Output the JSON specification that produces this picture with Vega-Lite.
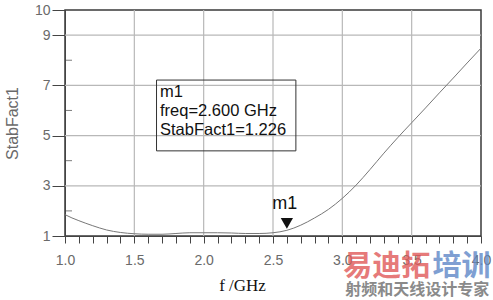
{
  "$schema": "https://vega.github.io/schema/vega-lite/v6.json",
  "autosize": {"type": "none"},
  "padding": {"left": 65, "top": 10, "right": 12, "bottom": 64},
  "width": 416,
  "height": 226,
  "background": "white",
  "view": {"stroke": "#3a3a3a", "strokeWidth": 1.5},
  "config": {
    "axis": {"labelFont": "Liberation Sans", "labelColor": "#6a6a6a", "labelFontSize": 14, "domainColor": "#444", "tickColor": "#444", "titleFont": "Liberation Sans", "grid": false}
  },
  "datasets": {
    "curve": [
      {"f": 1.0, "v": 1.85}, {"f": 1.05, "v": 1.72}, {"f": 1.1, "v": 1.61}, {"f": 1.2, "v": 1.41},
      {"f": 1.3, "v": 1.24}, {"f": 1.4, "v": 1.14}, {"f": 1.5, "v": 1.09}, {"f": 1.6, "v": 1.07},
      {"f": 1.7, "v": 1.07}, {"f": 1.8, "v": 1.10}, {"f": 1.9, "v": 1.13}, {"f": 2.0, "v": 1.13},
      {"f": 2.1, "v": 1.13}, {"f": 2.2, "v": 1.12}, {"f": 2.3, "v": 1.10}, {"f": 2.4, "v": 1.10},
      {"f": 2.5, "v": 1.13}, {"f": 2.6, "v": 1.226}, {"f": 2.7, "v": 1.43}, {"f": 2.8, "v": 1.72},
      {"f": 2.9, "v": 2.06}, {"f": 3.0, "v": 2.50}, {"f": 3.1, "v": 3.03}, {"f": 3.2, "v": 3.65},
      {"f": 3.3, "v": 4.30}, {"f": 3.4, "v": 4.92}, {"f": 3.5, "v": 5.51}, {"f": 3.6, "v": 6.10},
      {"f": 3.7, "v": 6.70}, {"f": 3.8, "v": 7.29}, {"f": 3.9, "v": 7.89}, {"f": 4.0, "v": 8.48}
    ],
    "xgrid": [{"g": 1.5}, {"g": 2.0}, {"g": 2.5}, {"g": 3.0}, {"g": 3.5}],
    "ygrid": [{"g": 3}, {"g": 5}, {"g": 7}, {"g": 9}]
  },
  "layer": [
    {
      "data": {"name": "xgrid"},
      "mark": {"type": "rule", "color": "#b8b8b8", "strokeWidth": 1.2},
      "encoding": {"x": {"field": "g", "type": "quantitative"}, "y": {"datum": 1, "type": "quantitative"}, "y2": {"datum": 10}}
    },
    {
      "data": {"name": "ygrid"},
      "mark": {"type": "rule", "color": "#b8b8b8", "strokeWidth": 1.2},
      "encoding": {"y": {"field": "g", "type": "quantitative"}, "x": {"datum": 1, "type": "quantitative"}, "x2": {"datum": 4}}
    },
    {
      "data": {"values": [{"x": 1.0, "g": 2}, {"x": 1.0, "g": 4}, {"x": 1.0, "g": 6}, {"x": 1.0, "g": 8}]},
      "mark": {"type": "tick", "orient": "horizontal", "color": "#444", "size": 7, "thickness": 1, "xOffset": 3.5},
      "encoding": {"x": {"field": "x", "type": "quantitative"}, "y": {"field": "g", "type": "quantitative"}}
    },
    {
      "data": {"name": "curve"},
      "mark": {"type": "line", "color": "#777", "strokeWidth": 1, "interpolate": "monotone"},
      "encoding": {
        "x": {"field": "f", "type": "quantitative",
          "scale": {"domain": [1, 4], "nice": false, "zero": false},
          "axis": {
            "values": [1.0,1.1,1.2,1.3,1.4,1.5,1.6,1.7,1.8,1.9,2.0,2.1,2.2,2.3,2.4,2.5,2.6,2.7,2.8,2.9,3.0,3.1,3.2,3.3,3.4,3.5,3.6,3.7,3.8,3.9,4.0],
            "tickCount": 100,
            "labelExpr": "abs(datum.value*2 - round(datum.value*2)) < 0.001 ? format(datum.value, '.1f') : ''",
            "tickSize": 7,
            "labelPadding": 10,
            "labelFlush": false,
            "labelOverlap": false,
            "title": "f /GHz",
            "titleFont": "Liberation Serif",
            "titleFontSize": 17,
            "titleFontWeight": "normal",
            "titleColor": "#111",
            "titleX": 177,
            "titleY": 54,
            "titleBaseline": "alphabetic",
            "titleAnchor": null,
            "titleAlign": "center"
          }
        },
        "y": {"field": "v", "type": "quantitative",
          "scale": {"domain": [1, 10], "nice": false, "zero": false},
          "axis": {
            "values": [1,3,5,7,9,10],
            "tickCount": 100,
            "format": "d",
            "labelOverlap": false,
            "labelFlush": false,
            "tickSize": 13,
            "labelPadding": 2,
            "title": "StabFact1",
            "titleFontSize": 16,
            "titleFontWeight": "normal",
            "titleColor": "#6a6a6a",
            "titleAngle": -90,
            "titleX": -48,
            "titleY": 113,
            "titleAlign": "center",
            "titleBaseline": "alphabetic"
          }
        }
      }
    },
    {
      "data": {"values": [{"x1": 1.66, "x2": 2.665, "y1": 4.39, "y2": 7.21}]},
      "mark": {"type": "rect", "fill": null, "stroke": "#333", "strokeWidth": 1},
      "encoding": {
        "x": {"field": "x1", "type": "quantitative"},
        "x2": {"field": "x2"},
        "y": {"field": "y1", "type": "quantitative"},
        "y2": {"field": "y2"}
      }
    },
    {
      "data": {"values": [{"x": 1.685, "y": 6.54, "t": ["m1", "freq=2.600 GHz", "StabFact1=1.226"]}]},
      "mark": {"type": "text", "align": "left", "baseline": "alphabetic", "font": "Liberation Sans", "fontSize": 16.5, "lineHeight": 19, "color": "#111"},
      "encoding": {
        "x": {"field": "x", "type": "quantitative"},
        "y": {"field": "y", "type": "quantitative"},
        "text": {"field": "t"}
      }
    },
    {
      "data": {"values": [{"f": 2.6, "v": 1.226, "name": "m1"}]},
      "mark": {"type": "point", "shape": "triangle-down", "filled": true, "color": "#111", "opacity": 1, "size": 150, "yOffset": -7},
      "encoding": {
        "x": {"field": "f", "type": "quantitative"},
        "y": {"field": "v", "type": "quantitative"}
      }
    },
    {
      "data": {"values": [{"f": 2.6, "v": 1.226, "name": "m1"}]},
      "mark": {"type": "text", "align": "center", "baseline": "alphabetic", "font": "Liberation Sans", "fontSize": 18, "dy": -21, "dx": -2, "color": "#111"},
      "encoding": {
        "x": {"field": "f", "type": "quantitative"},
        "y": {"field": "v", "type": "quantitative"},
        "text": {"field": "name"}
      }
    },
    {
      "data": {"values": [
        {"x": 3.32, "y": -0.235, "t": "易迪拓", "c": "red"},
        {"x": 3.86, "y": -0.235, "t": "培训", "c": "blue"}
      ]},
      "mark": {"type": "text", "align": "center", "baseline": "middle", "font": "Noto Sans CJK SC", "fontWeight": "bold", "fontSize": 29, "opacity": 0.8},
      "encoding": {
        "x": {"field": "x", "type": "quantitative"},
        "y": {"field": "y", "type": "quantitative"},
        "text": {"field": "t"},
        "color": {"field": "c", "type": "nominal", "scale": {"domain": ["red", "blue"], "range": ["#e05a5a", "#6088c8"]}, "legend": null}
      }
    },
    {
      "data": {"values": [{"x": 3.54, "y": -1.15, "t": "射频和天线设计专家"}]},
      "mark": {"type": "text", "align": "center", "baseline": "middle", "font": "Noto Sans CJK SC", "fontWeight": "bold", "fontSize": 16, "color": "#8a8a8a"},
      "encoding": {
        "x": {"field": "x", "type": "quantitative"},
        "y": {"field": "y", "type": "quantitative"},
        "text": {"field": "t"}
      }
    }
  ]
}
